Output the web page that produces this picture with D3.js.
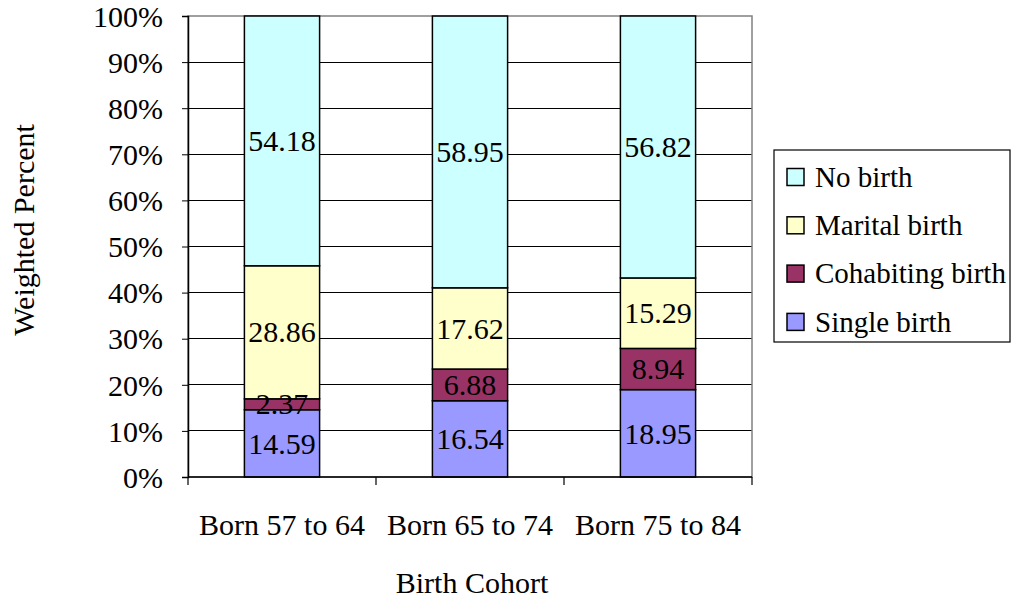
<!DOCTYPE html>
<html>
<head>
<meta charset="utf-8">
<script src="https://cdn.jsdelivr.net/npm/d3@7"></script>
<style>
  html, body { margin: 0; padding: 0; background: #fff; }
  svg { display: block; }
  svg text { font-family: "Liberation Serif", "Times New Roman", serif; fill: #000; }
</style>
</head>
<body>
<svg id="chart" width="1013" height="600"></svg>
<script>
// Birth cohorts and the share of each first-birth outcome (weighted percent)
const cohorts = ["Born 57 to 64", "Born 65 to 74", "Born 75 to 84"];
const singleBirth = [14.59, 16.54, 18.95];
const cohabitingBirth = [2.37, 6.88, 8.94];
const maritalBirth = [28.86, 17.62, 15.29];
const noBirth = [54.18, 58.95, 56.82];
const seriesNames = ["Single birth", "Cohabiting birth", "Marital birth", "No birth"];
const seriesColors = ["#9999FF", "#993366", "#FFFFCC", "#CCFFFF"];
const yTicks = [0, 10, 20, 30, 40, 50, 60, 70, 80, 90, 100];

const rows = cohorts.map((c, i) => ({
  cohort: c,
  "Single birth": singleBirth[i],
  "Cohabiting birth": cohabitingBirth[i],
  "Marital birth": maritalBirth[i],
  "No birth": noBirth[i]
}));

const FS = 30;
const svg = d3.select("#chart");
const plot = { left: 188, right: 752, top: 16, bottom: 477 };

const x = d3.scaleBand().domain(cohorts).range([plot.left, plot.right]).paddingInner(0.6).paddingOuter(0.3);
const xEdges = d3.scalePoint().domain(d3.range(cohorts.length + 1)).range([plot.left, plot.right]);
const y = d3.scaleLinear().domain([0, 100]).range([plot.bottom, plot.top]);

// Horizontal gridlines
svg.append("g").selectAll("line").data(yTicks.slice(1, -1)).join("line")
  .attr("x1", plot.left).attr("x2", plot.right)
  .attr("y1", d => y(d)).attr("y2", d => y(d))
  .attr("stroke", "#000").attr("stroke-width", 1).attr("shape-rendering", "crispEdges");

// Plot-area border
svg.append("rect")
  .attr("x", plot.left).attr("y", plot.top)
  .attr("width", plot.right - plot.left).attr("height", plot.bottom - plot.top)
  .attr("fill", "none").attr("stroke", "#808080").attr("stroke-width", 1.5);

// Stacked bars
const stack = d3.stack().keys(seriesNames)(rows);
const color = d3.scaleOrdinal().domain(seriesNames).range(seriesColors);

const layers = svg.append("g").selectAll("g").data(stack).join("g")
  .attr("fill", d => color(d.key));

layers.selectAll("rect").data(d => d).join("rect")
  .attr("x", d => x(d.data.cohort))
  .attr("width", x.bandwidth())
  .attr("y", d => y(Math.min(d[1], 100)))
  .attr("height", d => y(d[0]) - y(Math.min(d[1], 100)))
  .attr("stroke", "#000").attr("stroke-width", 1.5);

// Value labels centred in each segment
const labels = svg.append("g");
stack.forEach(layer => {
  labels.append("g").selectAll("text").data(layer).join("text")
    .attr("x", d => x(d.data.cohort) + x.bandwidth() / 2)
    .attr("y", d => y((d[0] + Math.min(d[1], 100)) / 2))
    .attr("dy", "0.34em")
    .attr("text-anchor", "middle")
    .attr("font-size", FS)
    .text(d => d.data[layer.key].toFixed(2));
});

// Y axis
const yAxis = svg.append("g").attr("transform", `translate(${plot.left},0)`)
  .call(d3.axisLeft(y).tickValues(yTicks).tickSize(6).tickPadding(19).tickFormat(d => d + "%"));
yAxis.attr("font-family", null).attr("font-size", FS);
yAxis.select(".domain").attr("stroke", "#000").attr("stroke-width", 1.5);
yAxis.selectAll(".tick line").attr("stroke", "#000");
yAxis.selectAll(".tick text").attr("dy", "0.34em");

// X axis line with tick marks between categories
svg.append("line")
  .attr("x1", plot.left).attr("x2", plot.right)
  .attr("y1", plot.bottom).attr("y2", plot.bottom)
  .attr("stroke", "#000").attr("stroke-width", 1.5);
svg.append("g").selectAll("line").data(xEdges.domain()).join("line")
  .attr("x1", d => xEdges(d)).attr("x2", d => xEdges(d))
  .attr("y1", plot.bottom).attr("y2", plot.bottom + 8)
  .attr("stroke", "#000").attr("stroke-width", 1.2);

svg.append("g").selectAll("text").data(cohorts).join("text")
  .attr("x", d => x(d) + x.bandwidth() / 2)
  .attr("y", 535)
  .attr("text-anchor", "middle")
  .attr("font-size", FS)
  .text(d => d);

// Axis titles
svg.append("text")
  .attr("x", 472).attr("y", 593)
  .attr("text-anchor", "middle").attr("font-size", FS)
  .text("Birth Cohort");

svg.append("text")
  .attr("transform", "translate(34,230) rotate(-90)")
  .attr("text-anchor", "middle").attr("font-size", FS)
  .text("Weighted Percent");

// Legend (top entry is the top of the stack)
const legend = svg.append("g").attr("transform", "translate(774,150)");
legend.append("rect")
  .attr("width", 236).attr("height", 192)
  .attr("fill", "#fff").attr("stroke", "#000").attr("stroke-width", 1.2);
const legendItems = seriesNames.slice().reverse();
const li = legend.selectAll("g.item").data(legendItems).join("g")
  .attr("class", "item")
  .attr("transform", (d, i) => `translate(0,${27 + i * 48.3})`);
li.append("rect")
  .attr("x", 13).attr("y", -8.5).attr("width", 17).attr("height", 17)
  .attr("fill", d => color(d)).attr("stroke", "#000").attr("stroke-width", 1.5);
li.append("text")
  .attr("x", 41).attr("dy", "0.34em")
  .attr("font-size", 29)
  .text(d => d);
</script>
</body>
</html>
